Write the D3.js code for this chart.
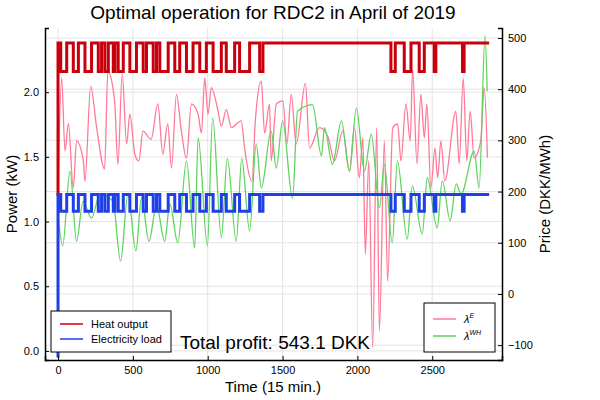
<!DOCTYPE html>
<html>
<head>
<meta charset="utf-8">
<script src="https://cdn.jsdelivr.net/npm/d3@7"></script>
<style>
  body { margin: 0; background: #fff; }
  text { font-family: "Liberation Sans", Arial, sans-serif; }
</style>
</head>
<body>
<svg width="600" height="400"></svg>
<script>
// Daily low periods of the heat pump (time steps of 15 min.)
const lowStarts = [18, 102, 180, 269, 313, 369, 402, 480, 569, 636, 680, 780, 858, 947, 1036, 1124, 1213, 1347,
  2224, 2313, 2413, 2513, 2702];
const lowEnds = [58, 136, 224, 291, 336, 380, 436, 524, 591, 658, 736, 813, 902, 991, 1091, 1180, 1280, 1369,
  2253, 2358, 2447, 2524, 2713];
const heatHigh = 2.38, heatLow = 2.16;
const loadHigh = 1.21, loadLow = 1.08;
const tEnd = 2880;

// Electricity price lambda^E
const priceET = [0, 24, 47, 69, 102, 124, 169, 180, 218, 258, 311, 333, 378, 400, 429, 458, 480, 513, 540, 567,
  622, 667, 700, 733, 758, 791, 824, 858, 891, 936, 958, 980, 1002, 1024, 1069, 1091, 1124, 1158, 1224, 1247,
  1296, 1318, 1358, 1380, 1413, 1424, 1458, 1502, 1529, 1558, 1591, 1653, 1680, 1747, 1802, 1847, 1902, 1947,
  1980, 2013, 2036, 2053, 2076, 2102, 2129, 2147, 2180, 2202, 2236, 2269, 2291, 2324, 2353, 2369, 2398, 2424,
  2447, 2464, 2491, 2518, 2536, 2558, 2584, 2658, 2680, 2707, 2731, 2753, 2780, 2824, 2847, 2869];
const priceEV = [200, 422, 279, 333, 207, 299, 260, 220, 406, 325, 244, 435, 377, 253, 430, 293, 351, 273, 260, 318,
  302, 371, 273, 332, 246, 390, 318, 265, 371, 351, 314, 422, 351, 403, 357, 328, 360, 325, 338, 283,
  220, 338, 416, 314, 371, 260, 371, 377, 293, 390, 293, 412, 285, 325, 308, 260, 318, 240,
  325, 227, 305, 78, 260, -105, 325, -72, 299, 25, 325, 332, 260, 371, 299, 439, 254, 390,
  305, 371, 207, 285, 227, 299, 221, 357, 254, 422, 260, 357, 266, 299, 403, 266];

// Wholesale heat price lambda^WH
const priceWT = [2, 31, 80, 124, 167, 224, 280, 367, 418, 467, 520, 558, 607, 658, 713, 747, 800, 858, 913, 936,
  998, 1033, 1091, 1131, 1191, 1227, 1280, 1324, 1358, 1424, 1458, 1500, 1567, 1600, 1700, 1760, 1780, 1833,
  1893, 1947, 1993, 2047, 2093, 2147, 2180, 2233, 2267, 2333, 2367, 2433, 2467, 2533, 2567, 2620, 2660, 2693,
  2780, 2813, 2853, 2867];
const priceWV = [148, 94, 240, 103, 181, 148, 195, 181, 64, 195, 84, 188, 103, 172, 103, 176, 100, 260, 90, 305,
  94, 344, 110, 265, 103, 265, 123, 293, 207, 318, 246, 338, 187, 357, 370, 270, 325, 253,
  338, 240, 363, 240, 312, 168, 253, 100, 260, 107, 211, 117, 227, 129, 221, 143, 215, 195,
  279, 207, 504, 396];

const svg = d3.select("svg");
const margin = {top: 28, right: 98, bottom: 40, left: 45};
const width = 600 - margin.left - margin.right;
const height = 400 - margin.top - margin.bottom;

const x = d3.scaleLinear().domain([-87, 2966]).range([0, width]);
const yP = d3.scaleLinear().domain([-0.07, 2.496]).range([height, 0]);
const yR = d3.scaleLinear().domain([-129, 519.5]).range([height, 0]);

const g = svg.append("g").attr("transform", "translate(" + margin.left + "," + margin.top + ")");

// grid
const grid = g.append("g").attr("stroke", "#e4e4e4").attr("stroke-width", 1);
[0, 500, 1000, 1500, 2000, 2500].forEach(t => {
  grid.append("line").attr("x1", x(t)).attr("x2", x(t)).attr("y1", 0).attr("y2", height);
});
[0, 0.5, 1, 1.5, 2].forEach(v => {
  grid.append("line").attr("x1", 0).attr("x2", width).attr("y1", yP(v)).attr("y2", yP(v));
});
[-100, 0, 100, 200, 300, 400, 500].forEach(v => {
  grid.append("line").attr("x1", 0).attr("x2", width).attr("y1", yR(v)).attr("y2", yR(v));
});

// step series built from low periods
function stepSeries(hi, lo, start) {
  const pts = [[0, start], [0, hi]];
  lowStarts.forEach((s, i) => {
    pts.push([s, hi], [s, lo], [lowEnds[i], lo], [lowEnds[i], hi]);
  });
  pts.push([tEnd, hi]);
  return pts;
}

const priceLine = d3.line().x(d => x(d[0])).y(d => yR(d[1])).curve(d3.curveMonotoneX);

g.append("path")
  .datum(d3.zip(priceET, priceEV))
  .attr("fill", "none").attr("stroke", "#ff7a98").attr("stroke-width", 1.3)
  .attr("d", priceLine);
g.append("path")
  .datum(d3.zip(priceWT, priceWV))
  .attr("fill", "none").attr("stroke", "#5ed45e").attr("stroke-width", 1.3)
  .attr("d", priceLine);

const powerLine = d3.line().x(d => x(d[0])).y(d => yP(d[1]));
g.append("path")
  .datum(stepSeries(heatHigh, heatLow, 1.2))
  .attr("fill", "none").attr("stroke", "#c8000d").attr("stroke-width", 3)
  .attr("d", powerLine);
g.append("path")
  .datum(stepSeries(loadHigh, loadLow, -0.05))
  .attr("fill", "none").attr("stroke", "#1f3fe8").attr("stroke-width", 3)
  .attr("d", powerLine);

// axes
const xAxis = g.append("g").attr("transform", "translate(0," + height + ")")
  .call(d3.axisBottom(x).tickValues([0, 500, 1000, 1500, 2000, 2500]).tickFormat(d3.format("d"))
    .tickSize(-4).tickPadding(6));
const yAxis = g.append("g")
  .call(d3.axisLeft(yP).tickValues([0, 0.5, 1, 1.5, 2]).tickFormat(d3.format(".1f")).tickSize(-4).tickPadding(6));
const rAxis = g.append("g").attr("transform", "translate(" + width + ",0)")
  .call(d3.axisRight(yR).tickValues([-100, 0, 100, 200, 300, 400, 500]).tickSize(-4).tickPadding(6));
[xAxis, yAxis, rAxis].forEach(a => {
  a.select(".domain").attr("stroke", "#000").attr("stroke-width", 1.5);
  a.selectAll("text").attr("font-size", 11).attr("fill", "#000")
    .attr("font-family", "Liberation Sans, Arial, sans-serif");
});

// titles
svg.append("text").attr("x", 273).attr("y", 19).attr("text-anchor", "middle")
  .attr("font-size", 19).text("Optimal operation for RDC2 in April of 2019");
svg.append("text").attr("x", 273).attr("y", 392).attr("text-anchor", "middle")
  .attr("font-size", 15).text("Time (15 min.)");
svg.append("text").attr("transform", "translate(17," + (margin.top + height / 2) + ") rotate(-90)")
  .attr("text-anchor", "middle").attr("font-size", 15).text("Power (kW)");
svg.append("text").attr("transform", "translate(550," + (margin.top + height / 2) + ") rotate(-90)")
  .attr("text-anchor", "middle").attr("font-size", 15).text("Price (DKK/MWh)");

// legends
const leg1 = svg.append("g").attr("transform", "translate(51,311)");
leg1.append("rect").attr("width", 120).attr("height", 41).attr("fill", "#fff").attr("stroke", "#000");
[["Heat output", "#c8000d"], ["Electricity load", "#1f3fe8"]].forEach((d, i) => {
  const yy = 13 + i * 15;
  leg1.append("line").attr("x1", 9).attr("x2", 32).attr("y1", yy).attr("y2", yy)
    .attr("stroke", d[1]).attr("stroke-width", 1.5);
  leg1.append("text").attr("x", 40).attr("y", yy + 4).attr("font-size", 11).text(d[0]);
});

svg.append("text").attr("x", 275).attr("y", 349).attr("text-anchor", "middle")
  .attr("font-family", "DejaVu Sans, sans-serif").attr("font-size", 19).text("Total profit: 543.1 DKK");

const leg2 = svg.append("g").attr("transform", "translate(424,303)");
leg2.append("rect").attr("width", 71).attr("height", 49).attr("fill", "#fff").attr("stroke", "#000");
[["E", "#ff7a98"], ["WH", "#5ed45e"]].forEach((d, i) => {
  const yy = 16 + i * 17;
  leg2.append("line").attr("x1", 9).attr("x2", 32).attr("y1", yy).attr("y2", yy)
    .attr("stroke", d[1]).attr("stroke-width", 1.5);
  const t = leg2.append("text").attr("x", 40).attr("y", yy + 4).attr("font-size", 11).attr("font-style", "italic");
  t.append("tspan").text("λ");
  t.append("tspan").attr("dy", -5).attr("font-size", 7).text(d[0]);
});
</script>
</body>
</html>
